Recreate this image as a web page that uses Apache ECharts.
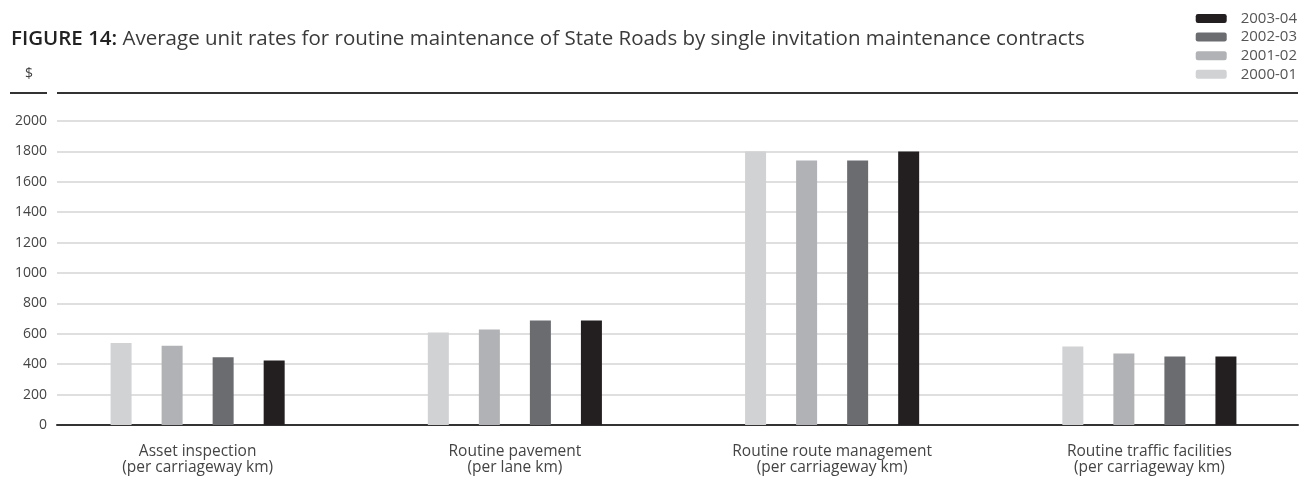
<!DOCTYPE html>
<html>
<head>
<meta charset="utf-8">
<script src="https://cdn.jsdelivr.net/npm/echarts@6/dist/echarts.min.js"></script>
<style>
  html, body { margin: 0; padding: 0; background: #fff; }
  #chart { width: 1308px; height: 479px; }
</style>
</head>
<body>
<div id="chart"></div>
<script>
const categories = [
  "Asset inspection\n(per carriageway km)",
  "Routine pavement\n(per lane km)",
  "Routine route management\n(per carriageway km)",
  "Routine traffic facilities\n(per carriageway km)"
];
const years = ["2000-01", "2001-02", "2002-03", "2003-04"];
const colors = ["#d1d2d4", "#b1b2b5", "#6b6c70", "#231f20"];
const rates2000 = [540, 608, 1800, 516];
const rates2001 = [522, 628, 1740, 470];
const rates2002 = [445, 687, 1740, 450];
const rates2003 = [425, 687, 1800, 450];
const seriesValues = [rates2000, rates2001, rates2002, rates2003];

const font = "'Open Sans', Lato, sans-serif";
const chart = echarts.init(document.getElementById("chart"));

chart.setOption({
  animation: false,
  textStyle: { fontFamily: font },
  title: {
    text: "{b|FIGURE 14:} Average unit rates for routine maintenance of State Roads by single invitation maintenance contracts",
    left: 6,
    top: 24,
    textStyle: {
      fontSize: 20.5,
      fontWeight: "normal",
      color: "#3a3a3a",
      fontFamily: font,
      rich: {
        b: { fontSize: 20.5, fontWeight: 600, color: "#222", fontFamily: font }
      }
    }
  },
  legend: {
    orient: "vertical",
    right: 6,
    top: 6,
    data: years.slice().reverse(),
    itemWidth: 31,
    itemHeight: 9,
    itemGap: 3.6,
    icon: "roundRect",
    textStyle: { fontSize: 15, color: "#555", lineHeight: 15, padding: [0, 0, 0, 9], fontFamily: font }
  },
  grid: [
    { left: 57, right: 10, top: 121, bottom: 54 },
    { left: 39, width: 1280, top: 121, bottom: 54 }
  ],
  xAxis: [
    {
      gridIndex: 0,
      type: "category",
      data: categories,
      axisLine: { lineStyle: { color: "#333", width: 2 } },
      axisTick: { show: false },
      axisLabel: { show: false }
    },
    {
      gridIndex: 1,
      type: "category",
      data: categories,
      axisLine: { show: false },
      axisTick: { show: false },
      axisLabel: {
        margin: 19,
        fontSize: 15.5,
        lineHeight: 16,
        color: "#444",
        fontFamily: font
      }
    }
  ],
  yAxis: [
    {
      gridIndex: 0,
      type: "value",
      min: 0,
      max: 2000,
      interval: 200,
      name: "$",
      nameLocation: "end",
      nameGap: 40,
      nameTextStyle: { fontSize: 14, color: "#444", align: "right", padding: [0, 24, 0, 0], fontFamily: font },
      axisLine: { show: false },
      axisTick: { show: false },
      axisLabel: { margin: 10, fontSize: 14, color: "#444", fontFamily: font, formatter: (v) => String(v) },
      splitLine: { lineStyle: { color: "#d4d4d4", width: 1.5 } }
    },
    {
      gridIndex: 1,
      type: "value",
      min: 0,
      max: 2000,
      interval: 200,
      show: false,
      splitLine: { show: false }
    }
  ],
  series: years.map((y, i) => ({
    name: y,
    type: "bar",
    xAxisIndex: 1,
    yAxisIndex: 1,
    data: seriesValues[i],
    barWidth: 21,
    barGap: "143%",
    itemStyle: { color: colors[i] }
  })),
  graphic: [
    {
      type: "line",
      shape: { x1: 57, y1: 93, x2: 1298, y2: 93 },
      style: { stroke: "#333", lineWidth: 2 }
    },
    {
      type: "line",
      shape: { x1: 10, y1: 93, x2: 47, y2: 93 },
      style: { stroke: "#333", lineWidth: 2 }
    }
  ]
});
</script>
</body>
</html>
